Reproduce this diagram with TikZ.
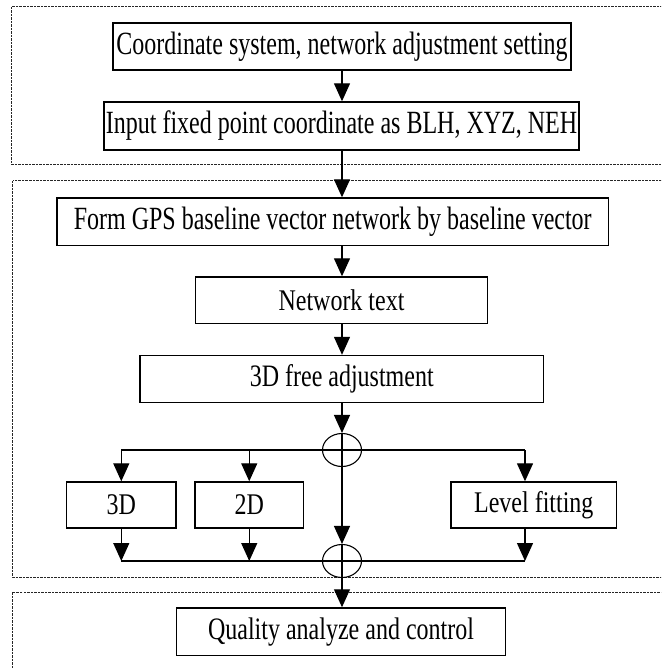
\documentclass[tikz,border=0pt]{standalone}
\usepackage{fontspec}
\setmainfont{Liberation Serif}
\usetikzlibrary{arrows.meta,shapes.geometric}
\newcommand{\stx}[2][1.25]{\scalebox{1}[#1]{#2}}
\begin{document}
\begin{tikzpicture}[x=1pt,y=-1pt,
  box/.style={draw=black, line width=1.4pt, rectangle, inner sep=0pt, text=black, font=\fontsize{24}{28}\selectfont},
  arr/.style={line width=1.3pt, -{Triangle[length=18pt,width=16pt]}},
  ln/.style={line width=1.3pt},
  panel/.style={draw=black!85, line width=1pt, dash pattern=on 2.5pt off 1pt},
  junc/.style={draw=black, line width=1.1pt, ellipse, inner sep=0pt, minimum width=39pt, minimum height=33pt}]
\useasboundingbox (0,0) rectangle (661,668);
\begin{scope}
\clip (0,0) rectangle (661,668);
\draw[panel] (11.5,7) rectangle (690,165);
\draw[panel] (12.5,181) rectangle (690,577);
\draw[panel] (12.5,592) rectangle (690,700);
\end{scope}
\node[box, minimum width=458pt, minimum height=47pt] (c1) at (342,46.5) {\stx[1.35]{Coordinate system, network adjustment setting}};
\node[box, minimum width=475pt, minimum height=48pt] (c2) at (341.5,126) {\stx[1.35]{Input fixed point coordinate as BLH, XYZ, NEH}};
\node[box, minimum width=551.5pt, minimum height=47.5pt] (form) at (332.75,221.75) {\stx[1.35]{Form GPS baseline vector network by baseline vector}};
\node[box, minimum width=292pt, minimum height=46.5pt] (net) at (341.5,300.25) {\stx[1.25]{Network text}};
\node[box, minimum width=403.5pt, minimum height=47pt] (free) at (341.75,379) {\stx[1.3]{3D free adjustment}};
\node[box, minimum width=109.3pt, minimum height=46pt] (n3d) at (121.3,505) {\stx[1.25]{3D}};
\node[box, minimum width=108.5pt, minimum height=46pt] (n2d) at (249.25,505) {\stx[1.25]{2D}};
\node[box, minimum width=165.7pt, minimum height=46pt] (nlev) at (533.8,505) {\stx[1.25]{Level fitting}};
\node[box, minimum width=328.6pt, minimum height=47.7pt] (q) at (341,631.8) {\stx[1.3]{Quality analyze and control}};
\node[junc] (j1) at (342,450) {};
\node[junc] (j2) at (342,561) {};
\coordinate (t3d) at (n3d.north |- j1.center);
\coordinate (t2d) at (n2d.north |- j1.center);
\coordinate (tlev) at (525,450);
\coordinate (b3d) at (n3d.south |- j2.center);
\coordinate (b2d) at (n2d.south |- j2.center);
\coordinate (blev) at (525,561);
% main column
\draw[arr] (c1.south) -- (c1.south |- c2.north);
\draw[arr] (c2.south -| j1) -- (j1 |- form.north);
\draw[arr] (form.south -| j1) -- (j1 |- net.north);
\draw[arr] (net.south -| j1) -- (j1 |- free.north);
\draw[arr] (free.south -| j1) -- (j1.north);
\draw[arr] (j1.north) -- (j2.north);
\draw[arr] (j2.north) -- (j2 |- q.north);
% buses
\draw[ln] (t3d) -- (tlev);
\draw[ln] (b3d) -- (blev);
\draw[arr] (t3d) -- (n3d.north);
\draw[arr] (t2d) -- (n2d.north);
\draw[arr] (tlev) -- (tlev |- nlev.north);
\draw[arr] (n3d.south) -- (b3d);
\draw[arr] (n2d.south) -- (b2d);
\draw[arr] (blev |- nlev.south) -- (blev);
\end{tikzpicture}
\end{document}
